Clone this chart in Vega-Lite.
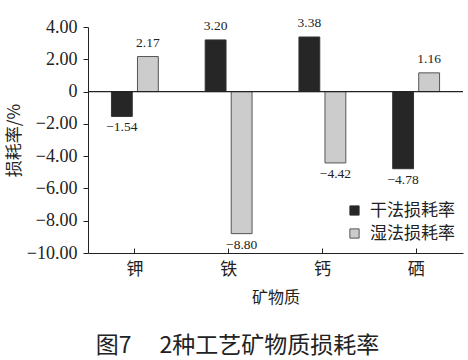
{
  "$schema": "https://vega.github.io/schema/vega-lite/v6.json",
  "width": 375,
  "height": 226,
  "autosize": "none",
  "padding": {"left": 88, "top": 27, "right": 5, "bottom": 107},
  "background": "white",
  "config": {
    "view": {"stroke": null},
    "axisY": {"labelOverlap": false, "labelFlush": false, "grid": false, "tickCount": 8}
  },
  "title": {
    "text": "图7\u3000 2种工艺矿物质损耗率",
    "orient": "bottom",
    "anchor": "middle",
    "dx": -38,
    "offset": 30,
    "font": "Noto Sans CJK SC",
    "fontSize": 23,
    "fontWeight": "normal",
    "color": "#222"
  },
  "data": {
    "values": [
      {"mineral": "钾", "method": "干法损耗率", "value": -1.54},
      {"mineral": "钾", "method": "湿法损耗率", "value": 2.17},
      {"mineral": "铁", "method": "干法损耗率", "value": 3.20},
      {"mineral": "铁", "method": "湿法损耗率", "value": -8.80},
      {"mineral": "钙", "method": "干法损耗率", "value": 3.38},
      {"mineral": "钙", "method": "湿法损耗率", "value": -4.42},
      {"mineral": "硒", "method": "干法损耗率", "value": -4.78},
      {"mineral": "硒", "method": "湿法损耗率", "value": 1.16}
    ]
  },
  "encoding": {
    "x": {
      "field": "mineral",
      "type": "nominal",
      "sort": ["钾", "铁", "钙", "硒"],
      "scale": {"paddingInner": 0.5, "paddingOuter": 0.25},
      "axis": {
        "title": "矿物质",
        "titleFont": "Noto Sans CJK SC",
        "titleFontSize": 16,
        "titleFontWeight": "normal",
        "titleColor": "#222",
        "titlePadding": 12,
        "labelFont": "Noto Sans CJK SC",
        "labelFontSize": 17,
        "labelColor": "#222",
        "labelAngle": 0,
        "labelPadding": 13,
        "domainColor": "#222",
        "tickColor": "#222",
        "tickSize": -5,
        "tickBand": "center"
      }
    },
    "xOffset": {
      "field": "method",
      "type": "nominal",
      "scale": {"paddingInner": 0.2}
    },
    "y": {
      "field": "value",
      "type": "quantitative",
      "scale": {"domain": [-10, 4], "nice": false},
      "axis": {
        "title": "损耗率/%",
        "titleFont": "Noto Sans CJK SC",
        "titleFontSize": 17,
        "titleFontWeight": "normal",
        "titleColor": "#222",
        "titlePadding": 3,
        "values": [-10, -8, -6, -4, -2, 0, 2, 4],
        "labelExpr": "datum.value == 0 ? '0' : format(datum.value, '.2f')",
        "labelOverlap": false,
        "labelFlush": false,
        "labelFont": "Liberation Serif",
        "labelFontSize": 18,
        "labelColor": "#222",
        "labelPadding": 6,
        "grid": false,
        "domainColor": "#222",
        "tickColor": "#222",
        "tickSize": 5
      }
    }
  },
  "layer": [
    {
      "mark": {"type": "bar", "strokeWidth": 1},
      "encoding": {
        "fill": {
          "field": "method",
          "type": "nominal",
          "scale": {"domain": ["干法损耗率", "湿法损耗率"], "range": ["#262626", "#cccccc"]},
          "legend": {
            "title": null,
            "orient": "none",
            "legendX": 258,
            "legendY": 175,
            "symbolType": "square",
            "symbolSize": 85,
            "symbolStrokeColor": "#444",
            "symbolStrokeWidth": 1,
            "labelFont": "Noto Sans CJK SC",
            "labelFontSize": 17,
            "labelColor": "#222",
            "rowPadding": 5,
            "labelOffset": 7
          }
        },
        "stroke": {
          "field": "method",
          "type": "nominal",
          "scale": {"domain": ["干法损耗率", "湿法损耗率"], "range": ["#333333", "#555555"]},
          "legend": null
        }
      }
    },
    {
      "data": {"values": [{"zero": 0}]},
      "mark": {"type": "rule", "color": "#222", "strokeWidth": 1.2},
      "encoding": {"y": {"field": "zero", "type": "quantitative"}, "x": null, "xOffset": null}
    },
    {
      "transform": [{"filter": "datum.value >= 0"}],
      "mark": {"type": "text", "baseline": "bottom", "dy": -7, "font": "Liberation Serif", "fontSize": 13.5, "color": "#222"},
      "encoding": {
        "text": {"field": "value", "type": "quantitative", "format": ".2f"}
      }
    },
    {
      "transform": [{"filter": "datum.value < 0"}],
      "mark": {"type": "text", "baseline": "top", "dy": 4, "font": "Liberation Serif", "fontSize": 13.5, "color": "#222"},
      "encoding": {
        "text": {"field": "value", "type": "quantitative", "format": ".2f"}
      }
    }
  ]
}
